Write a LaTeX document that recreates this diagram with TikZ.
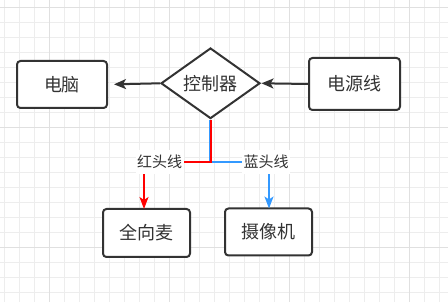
\documentclass[tikz,border=0pt]{standalone}
\usepackage{fontspec}
\setmainfont{Noto Sans CJK SC}
\usetikzlibrary{shapes.geometric,arrows.meta}
\definecolor{ink}{HTML}{333333}
\definecolor{gridminor}{HTML}{EDEDED}
\definecolor{gridmajor}{HTML}{E0E0E0}
\definecolor{wirered}{HTML}{FF0000}
\definecolor{wireblue}{HTML}{3399FF}
\tikzset{
  box/.style={draw=ink, line width=2pt, rounded corners=3.5pt, fill=white, text=ink,
    font=\fontsize{18}{20}\selectfont, inner sep=0pt},
  decision/.style={draw=ink, line width=2pt, diamond, fill=white, text=ink,
    font=\fontsize{18}{20}\selectfont, inner sep=0pt},
  wirelabel/.style={fill=white, text=ink, font=\fontsize{15}{17}\selectfont,
    inner xsep=1.5pt, inner ysep=0pt, minimum height=24pt},
  arr/.style={draw=ink, line width=2pt, -{Stealth[length=12pt,width=10pt,inset=3pt]}},
  redwire/.style={draw=wirered, line width=1.6pt},
  bluewire/.style={draw=wireblue, line width=1.6pt},
  redarr/.style={redwire, -{Stealth[length=12pt,width=9pt,inset=3pt]}},
  bluearr/.style={bluewire, -{Stealth[length=12pt,width=9pt,inset=3pt]}},
}
\begin{document}
\begin{tikzpicture}[x=1pt,y=-1pt]
\useasboundingbox (0,0) rectangle (448,302);
\fill[white] (0,0) rectangle (448,302);
% grid
\foreach \gx in {0,...,29} {\draw[gridminor, line width=1pt] ({4.3+15*\gx},0) -- ({4.3+15*\gx},302);}
\foreach \gy in {0,...,19} {\draw[gridminor, line width=1pt] (0,{7.3+15*\gy}) -- (448,{7.3+15*\gy});}
\foreach \gx in {0,...,3} {\draw[gridmajor, line width=1pt] ({49.3+120*\gx},0) -- ({49.3+120*\gx},302);}
\foreach \gy in {0,...,2} {\draw[gridmajor, line width=1pt] (0,{7.3+120*\gy}) -- (448,{7.3+120*\gy});}

% nodes
\node[box, minimum width=90pt, minimum height=47pt] (pc) at (62,84.5) {电脑};
\node[decision, minimum width=99pt, minimum height=68pt] (ctrl) at (210.5,83.3) {控制器};
\node[box, minimum width=91pt, minimum height=52pt] (power) at (354.5,84) {电源线};
\node[box, minimum width=87pt, minimum height=48pt] (mic) at (146.5,233) {全向麦};
\node[box, minimum width=87pt, minimum height=47pt] (cam) at (268.5,232) {摄像机};
\coordinate (rx) at (144,0);
\coordinate (bx) at (269,0);

% wires
\draw[bluewire] ([xshift=-0.8pt]ctrl.south) |- (242,162) coordinate (bend);
\draw[redwire] ([xshift=0.7pt]ctrl.south) |- (182,162) coordinate (rend);
\node[wirelabel] (redlab) at (159.5,162) {红头线};
\node[wirelabel] (bluelab) at (266,162) {蓝头线};
\draw[redarr] (redlab.south -| rx) -- ([yshift=-1pt]mic.north -| rx);
\draw[bluearr] (bluelab.south -| bx) -- ([yshift=-1pt]cam.north -| bx);

% black arrows
\draw[arr, shorten >=6pt] (ctrl.west) -- (pc.east);
\draw[arr, shorten >=0.5pt] (power.west) -- (ctrl.east);
\end{tikzpicture}
\end{document}
